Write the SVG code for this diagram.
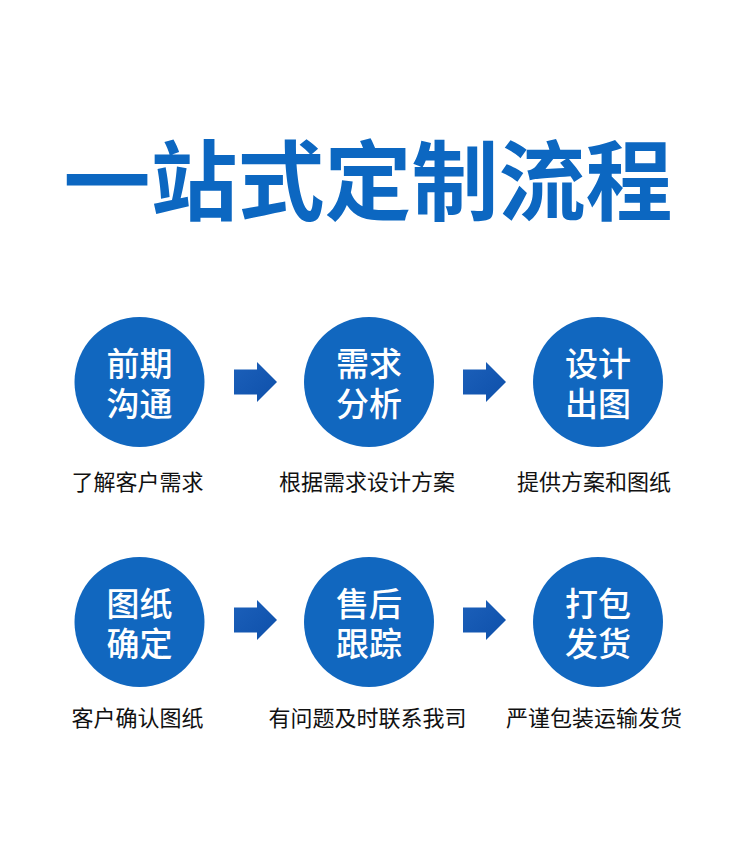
<svg xmlns="http://www.w3.org/2000/svg" width="750" height="852" viewBox="0 0 750 852">
<defs>
<style>
.title{font-family:"Noto Sans CJK SC","Noto Sans",sans-serif;font-weight:700;font-size:87px;fill:#0C67C1;text-anchor:middle}
.circ{fill:#1167BF}
.ct{font-family:"Noto Sans CJK SC","Noto Sans",sans-serif;font-weight:500;font-size:33px;fill:#ffffff;text-anchor:middle}
.lb{font-family:"Noto Sans CJK SC","Noto Sans",sans-serif;font-weight:400;font-size:22px;fill:#111111;text-anchor:middle}
.arr{fill:url(#ag)}
</style>
<linearGradient id="ag" x1="0" y1="0" x2="1" y2="1">
<stop offset="0" stop-color="#1C60BA"/>
<stop offset="1" stop-color="#0E50AA"/>
</linearGradient>
<path id="arrow" d="M0,-12.5 H23 V-20 L43,0 L23,20 V12.5 H0 Z"/>
</defs>
<rect width="750" height="852" fill="#ffffff"/>
<text class="title" x="368" y="214">一站式定制流程</text>

<g id="connectors">
<use href="#arrow" class="arr" x="234" y="382"/>
<use href="#arrow" class="arr" x="463" y="382"/>
<use href="#arrow" class="arr" x="234" y="620"/>
<use href="#arrow" class="arr" x="463" y="620"/>
</g>

<g id="n1">
<circle class="circ" cx="139.5" cy="382" r="65"/>
<text class="ct" x="139.5" y="376">前期<tspan x="139.5" dy="40">沟通</tspan></text>
<text class="lb" x="137.5" y="490">了解客户需求</text>
</g>
<g id="n2">
<circle class="circ" cx="369" cy="382" r="65"/>
<text class="ct" x="369" y="376">需求<tspan x="369" dy="40">分析</tspan></text>
<text class="lb" x="367" y="490">根据需求设计方案</text>
</g>
<g id="n3">
<circle class="circ" cx="598" cy="382" r="65"/>
<text class="ct" x="598" y="376">设计<tspan x="598" dy="40">出图</tspan></text>
<text class="lb" x="594" y="490">提供方案和图纸</text>
</g>
<g id="n4">
<circle class="circ" cx="139.5" cy="622" r="65"/>
<text class="ct" x="139.5" y="616">图纸<tspan x="139.5" dy="40">确定</tspan></text>
<text class="lb" x="137.5" y="726">客户确认图纸</text>
</g>
<g id="n5">
<circle class="circ" cx="369" cy="622" r="65"/>
<text class="ct" x="369" y="616">售后<tspan x="369" dy="40">跟踪</tspan></text>
<text class="lb" x="367.5" y="726">有问题及时联系我司</text>
</g>
<g id="n6">
<circle class="circ" cx="598" cy="622" r="65"/>
<text class="ct" x="598" y="616">打包<tspan x="598" dy="40">发货</tspan></text>
<text class="lb" x="594" y="726">严谨包装运输发货</text>
</g>
</svg>
